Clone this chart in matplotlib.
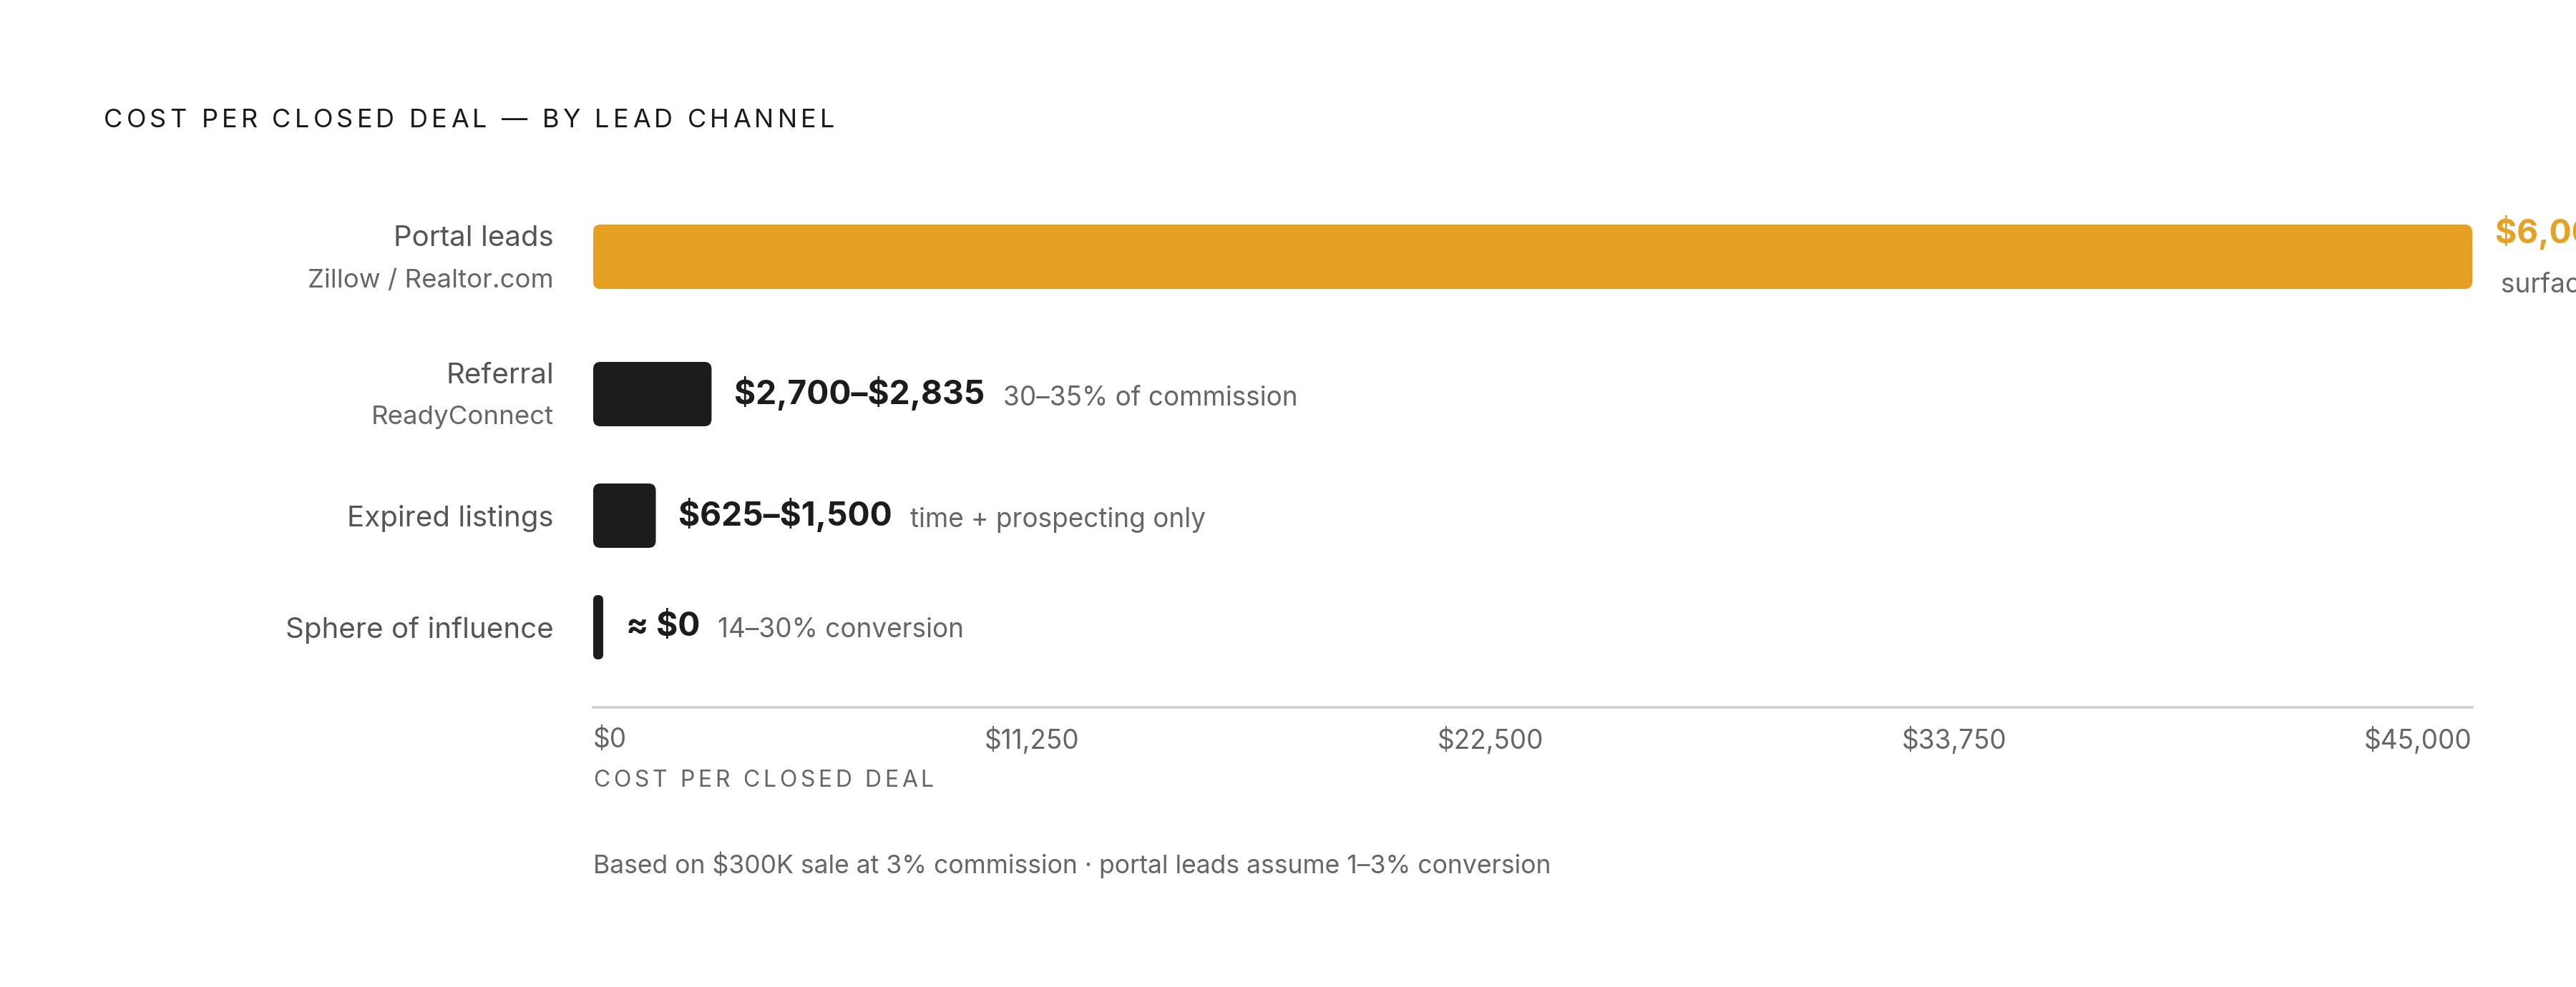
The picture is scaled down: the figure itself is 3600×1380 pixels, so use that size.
import matplotlib
matplotlib.use("Agg")
import matplotlib.pyplot as plt
from matplotlib.patches import FancyBboxPatch
from matplotlib.font_manager import FontProperties, findfont, get_font

# data
channels = ["Portal leads", "Referral", "Expired listings", "Sphere of influence"]
sources = ["Zillow / Realtor.com", "ReadyConnect", "", ""]
cost_high = [45000, 2835, 1500, 0]
value_labels = ["$6,000–$45,000", "$2,700–$2,835", "$625–$1,500", "≈ $0"]
notes = ["surface cost only", "30–35% of commission", "time + prospecting only", "14–30% conversion"]
tick_values = [0, 11250, 22500, 33750, 45000]
x_max = 45000

title = "COST PER CLOSED DEAL — BY LEAD CHANNEL"
x_title = "COST PER CLOSED DEAL"
footnote = "Based on $300K sale at 3% commission · portal leads assume 1–3% conversion"

# look
FONT = ["Inter", "DejaVu Sans"]
ORANGE = "#E7A122"
DARK = "#1c1c1c"
GREY = "#666666"
LABEL = "#555555"
bar_colors = [ORANGE, DARK, DARK, DARK]
value_colors = [ORANGE, DARK, DARK, DARK]

W, H, DPI = 3600, 1380, 200
plot_left, plot_right = 829, 3455
plot_top, axis_y = 250, 989
row_y = [359, 551, 721, 877]
bar_h = 90

plt.rcParams['font.family'] = FONT


def fx(px):
    return px / W


def fy(py):
    return 1 - py / H


fig = plt.figure(figsize=(W / DPI, H / DPI), dpi=DPI)
fig.patch.set_facecolor("white")
renderer = fig.canvas.get_renderer()


def tracked(x_px, y_px, s, size, color, span_px, weight="normal"):
    # letter-spaced text, one char at a time
    prop = FontProperties(family=FONT, size=size, weight=weight)
    font = get_font(findfont(prop))
    font.set_size(size, DPI)
    adv = [font.load_char(ord(c)).linearHoriAdvance / 65536 for c in s]
    extra = (span_px - sum(adv[:-1]) - adv[-1] * 0.85) / (len(s) - 1)
    x = x_px
    for c, a in zip(s, adv):
        fig.text(fx(x), fy(y_px), c, fontsize=size, color=color, ha="left",
                 va="center", fontweight=weight, parse_math=False)
        x += a + extra


ax = fig.add_axes([fx(plot_left), fy(axis_y), (plot_right - plot_left) / W,
                   (axis_y - plot_top) / H])
ax.set_xlim(0, x_max)
ax.set_ylim(axis_y, plot_top)
for side in ["top", "right", "left"]:
    ax.spines[side].set_visible(False)
ax.spines["bottom"].set_color("#d0d0d0")
ax.spines["bottom"].set_linewidth(1.3)
ax.set_yticks([])
ax.set_xticks([])

px_per_x = (plot_right - plot_left) / x_max
min_w_px = 14
radius_px = 10

for i in range(len(channels)):
    w = max(cost_high[i], min_w_px / px_per_x)
    r_px = min(radius_px, w * px_per_x / 2)
    patch = FancyBboxPatch((0, row_y[i] - bar_h / 2), w, bar_h,
                           boxstyle=f"round,pad=0,rounding_size={r_px / px_per_x}",
                           mutation_aspect=px_per_x, facecolor=bar_colors[i],
                           edgecolor="none", clip_on=False)
    ax.add_patch(patch)

    # channel labels
    if sources[i]:
        fig.text(fx(774), fy(row_y[i] - 26), channels[i], ha="right", va="center",
                 fontsize=14.5, color=LABEL)
        fig.text(fx(774), fy(row_y[i] + 33), sources[i], ha="right", va="center",
                 fontsize=13.2, color=GREY)
    else:
        fig.text(fx(774), fy(row_y[i] + 4), channels[i], ha="right", va="center",
                 fontsize=14.5, color=LABEL)

    # value + note
    if cost_high[i] >= x_max:
        ax.annotate(value_labels[i], xy=(w, row_y[i] - 33), xytext=(11.5, 0),
                    textcoords="offset points", ha="left", va="center",
                    fontsize=16.6, fontweight="bold", color=value_colors[i],
                    annotation_clip=False, parse_math=False)
        ax.annotate(notes[i], xy=(w, row_y[i] + 40), xytext=(14.5, 0),
                    textcoords="offset points", ha="left", va="center",
                    fontsize=13.3, color=GREY, annotation_clip=False,
                    parse_math=False)
    else:
        val = ax.annotate(value_labels[i], xy=(w, row_y[i]), xytext=(11.5, 0),
                          textcoords="offset points", ha="left", va="center",
                          fontsize=16.6, fontweight="bold", color=value_colors[i],
                          annotation_clip=False, parse_math=False)
        ax.annotate(notes[i], xy=(1, 0), xycoords=val, xytext=(9, 0),
                    textcoords="offset points", ha="left", va="bottom",
                    fontsize=13.3, color=GREY, annotation_clip=False,
                    parse_math=False)

# tick labels spread edge to edge
tick_texts = []
for v in tick_values:
    t = ax.text(v, 0, f"${v:,}", transform=ax.get_xaxis_transform(), ha="left",
                va="center", fontsize=13.3, color=GREY, parse_math=False)
    tick_texts.append(t)
widths_px = [t.get_window_extent(renderer).width for t in tick_texts]
gap = (plot_right - plot_left - sum(widths_px)) / (len(tick_texts) - 1)
x_px = 0
for t, wpx in zip(tick_texts, widths_px):
    t.set_x(x_px / px_per_x)
    t.set_y(-(1035 - axis_y) / (axis_y - plot_top))
    x_px += wpx + gap

tracked(145, 168, title, 13, "#1a1a1a", 1018)
tracked(829, 1092, x_title, 11.5, GREY, 473)
fig.text(fx(829), fy(1209), footnote, ha="left", va="center", fontsize=12.8,
         color=GREY, parse_math=False)

fig.savefig("out.png", dpi=DPI, facecolor="white")
